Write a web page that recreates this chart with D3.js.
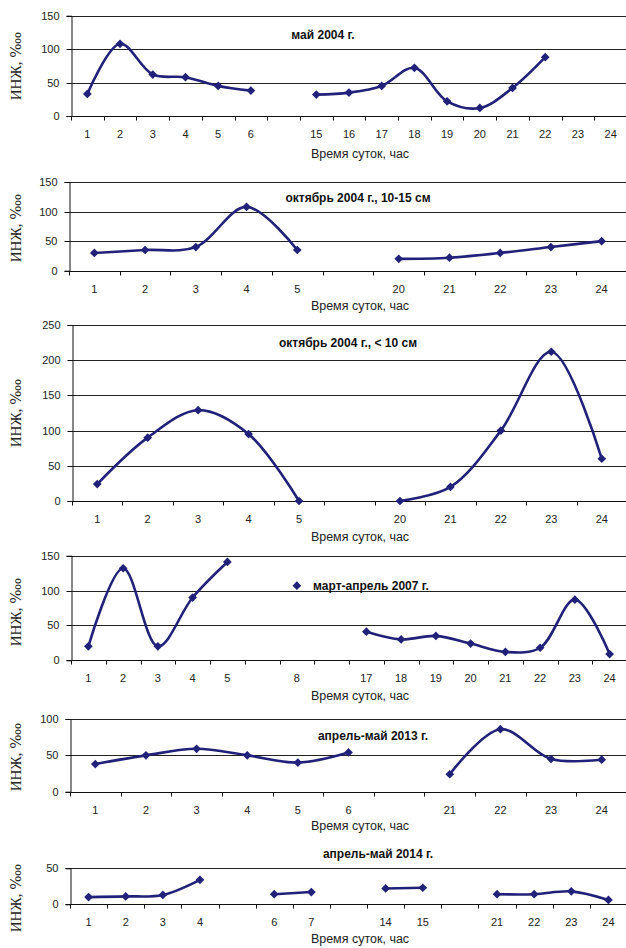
<!DOCTYPE html>
<html>
<head>
<meta charset="utf-8">
<script src="https://cdn.jsdelivr.net/npm/d3@7"></script>
<style>
  html, body { margin: 0; padding: 0; background: #fff; }
  svg { display: block; }
  .tick-label { font-family: "Liberation Sans Narrow", "Arial Narrow", "Liberation Sans", sans-serif; font-size: 11px; fill: #222; }
  .title { font-family: "Liberation Sans", Arial, sans-serif; font-size: 12px; font-weight: bold; fill: #111; }
  .x-title { font-family: "Liberation Sans Narrow", "Arial Narrow", "Liberation Sans", sans-serif; font-size: 12.5px; fill: #222; }
  .y-title { font-family: "Liberation Serif", "DejaVu Serif", serif; font-size: 15px; fill: #222; }
</style>
</head>
<body>
<svg id="chart" width="626" height="948"></svg>
<script>
// hour categories ('' = empty slot in the axis) and values, one pair per panel
const hours1 = ['1', '2', '3', '4', '5', '6', '', '15', '16', '17', '18', '19', '20', '21', '22', '23', '24'];
const values1 = [33, 108, 62, 58, 45, 38, null, 32, 35, 45, 72, 22, 12, 42, 88, null, null];

const hours2 = ['1', '2', '3', '4', '5', '', '20', '21', '22', '23', '24'];
const values2 = [30, 35, 40, 108, 35, null, 20, 22, 30, 40, 50];

const hours3 = ['1', '2', '3', '4', '5', '', '20', '21', '22', '23', '24'];
const values3 = [24, 90, 129, 95, 0, null, 0, 20, 100, 212, 60];

const hours4 = ['1', '2', '3', '4', '5', '', '8', '', '17', '18', '19', '20', '21', '22', '23', '24'];
const values4 = [20, 132, 20, 90, 141, null, 107, null, 41, 30, 35, 24, 12, 18, 87, 9];

const hours5 = ['1', '2', '3', '4', '5', '6', '', '21', '22', '23', '24'];
const values5 = [38, 50, 59, 50, 40, 54, null, 24, 86, 45, 44];

const hours6 = ['1', '2', '3', '4', '', '6', '7', '', '14', '15', '', '21', '22', '23', '24'];
const values6 = [10, 11, 13, 34, null, 14, 17, null, 22, 23, null, 14, 14, 18, 6];

const titles = [
	'май 2004 г.',
	'октябрь 2004 г., 10-15 см',
	'октябрь 2004 г., < 10 см',
	'март-апрель 2007 г.',
	'апрель-май 2013 г.',
	'апрель-май 2014 г.',
];
const yMax = [150, 150, 250, 150, 100, 50];
const yTicks = [
	[0, 50, 100, 150],
	[0, 50, 100, 150],
	[0, 50, 100, 150, 200, 250],
	[0, 50, 100, 150],
	[0, 50, 100],
	[0, 50],
];
const xTitle = 'Время суток, час';
const yTitle = 'ИНЖ, ‱';

// layout of each panel (pixels)
const layout = [
	{ x0: 71, top: 15.7, bottom: 116, titleX: 323, titleY: 36, xTitleY: 155, yTitleY: 66 },
	{ x0: 69, top: 182, bottom: 270.7, titleX: 358, titleY: 199, xTitleY: 307, yTitleY: 228 },
	{ x0: 72, top: 325, bottom: 501, titleX: 348, titleY: 344, xTitleY: 537.5, yTitleY: 413 },
	{ x0: 71, top: 555.7, bottom: 660.3, titleX: 371, titleY: 587, xTitleY: 697, yTitleY: 612 },
	{ x0: 70, top: 719, bottom: 791.7, titleX: 373, titleY: 737, xTitleY: 827, yTitleY: 757 },
	{ x0: 70, top: 868.3, bottom: 904.3, titleX: 378, titleY: 855, xTitleY: 940, yTitleY: 898 },
];

const panels = [
	{ hours: hours1, values: values1 },
	{ hours: hours2, values: values2 },
	{ hours: hours3, values: values3 },
	{ hours: hours4, values: values4 },
	{ hours: hours5, values: values5 },
	{ hours: hours6, values: values6 },
];

const W = 626;
const xEnd = 627;
const lineColor = '#21217a';
const svg = d3.select('#chart');

panels.forEach((p, k) => {
	const L = layout[k];
	const g = svg.append('g');
	const idx = d3.range(p.hours.length);

	const x = d3.scaleBand()
		.domain(idx)
		.range([L.x0, xEnd])
		.paddingInner(0)
		.paddingOuter(0);

	const y = d3.scaleLinear()
		.domain([0, yMax[k]])
		.range([L.bottom, L.top]);

	// gridlines
	g.selectAll('.grid')
		.data(yTicks[k].filter(v => v > 0))
		.enter()
		.append('line')
		.attr('x1', L.x0)
		.attr('x2', W)
		.attr('y1', d => Math.round(y(d)) + 0.5)
		.attr('y2', d => Math.round(y(d)) + 0.5)
		.attr('stroke', '#222')
		.attr('stroke-width', 1);

	// y axis
	const yAxis = d3.axisLeft(y)
		.tickValues(yTicks[k])
		.tickSize(5)
		.tickPadding(7)
		.tickFormat(d3.format('d'));

	const ya = g.append('g')
		.attr('transform', `translate(${Math.round(L.x0) + 0.5},0)`)
		.call(yAxis);
	ya.select('.domain').attr('stroke', '#111');
	ya.selectAll('.tick line').attr('stroke', '#111');
	ya.selectAll('.tick text').attr('class', 'tick-label').attr('fill', null);
	ya.selectAll('.tick').attr('transform', d => `translate(0,${Math.round(y(d)) + 0.5})`);

	// x axis line
	const yBase = Math.round(y(0)) + 0.5;
	g.append('line')
		.attr('x1', L.x0)
		.attr('x2', W)
		.attr('y1', yBase)
		.attr('y2', yBase)
		.attr('stroke', '#111');

	// category boundary ticks
	g.selectAll('.xtick')
		.data(idx)
		.enter()
		.append('line')
		.attr('x1', d => Math.round(x(d)) + 0.5)
		.attr('x2', d => Math.round(x(d)) + 0.5)
		.attr('y1', yBase)
		.attr('y2', yBase + 4)
		.attr('stroke', '#111');

	// category labels
	g.selectAll('.xlabel')
		.data(idx.filter(i => p.hours[i] !== ''))
		.enter()
		.append('text')
		.attr('class', 'tick-label')
		.attr('x', d => x(d) + x.bandwidth() / 2)
		.attr('y', yBase + 19)
		.attr('text-anchor', 'middle')
		.attr('dominant-baseline', 'middle')
		.text(d => p.hours[d]);

	// series line
	const line = d3.line()
		.defined(i => p.values[i] !== null)
		.x(i => x(i) + x.bandwidth() / 2)
		.y(i => y(p.values[i]))
		.curve(d3.curveCatmullRom.alpha(0.5));

	g.append('path')
		.datum(idx)
		.attr('d', line)
		.attr('fill', 'none')
		.attr('stroke', lineColor)
		.attr('stroke-width', 2.6)
		.attr('stroke-linejoin', 'round');

	// diamond markers
	const marker = d3.symbol().type(d3.symbolSquare).size(38);
	g.selectAll('.marker')
		.data(idx.filter(i => p.values[i] !== null))
		.enter()
		.append('path')
		.attr('d', marker)
		.attr('transform', i => `translate(${x(i) + x.bandwidth() / 2},${y(p.values[i])}) rotate(45)`)
		.attr('fill', lineColor);

	// titles
	g.append('text')
		.attr('class', 'title')
		.attr('x', L.titleX)
		.attr('y', L.titleY)
		.attr('text-anchor', 'middle')
		.attr('dominant-baseline', 'middle')
		.text(titles[k]);

	g.append('text')
		.attr('class', 'x-title')
		.attr('x', 360)
		.attr('y', L.xTitleY)
		.attr('text-anchor', 'middle')
		.attr('dominant-baseline', 'middle')
		.text(xTitle);

	g.append('text')
		.attr('class', 'y-title')
		.attr('transform', `translate(18,${L.yTitleY}) rotate(-90)`)
		.attr('text-anchor', 'middle')
		.attr('dominant-baseline', 'middle')
		.text(yTitle);
});
</script>
</body>
</html>
